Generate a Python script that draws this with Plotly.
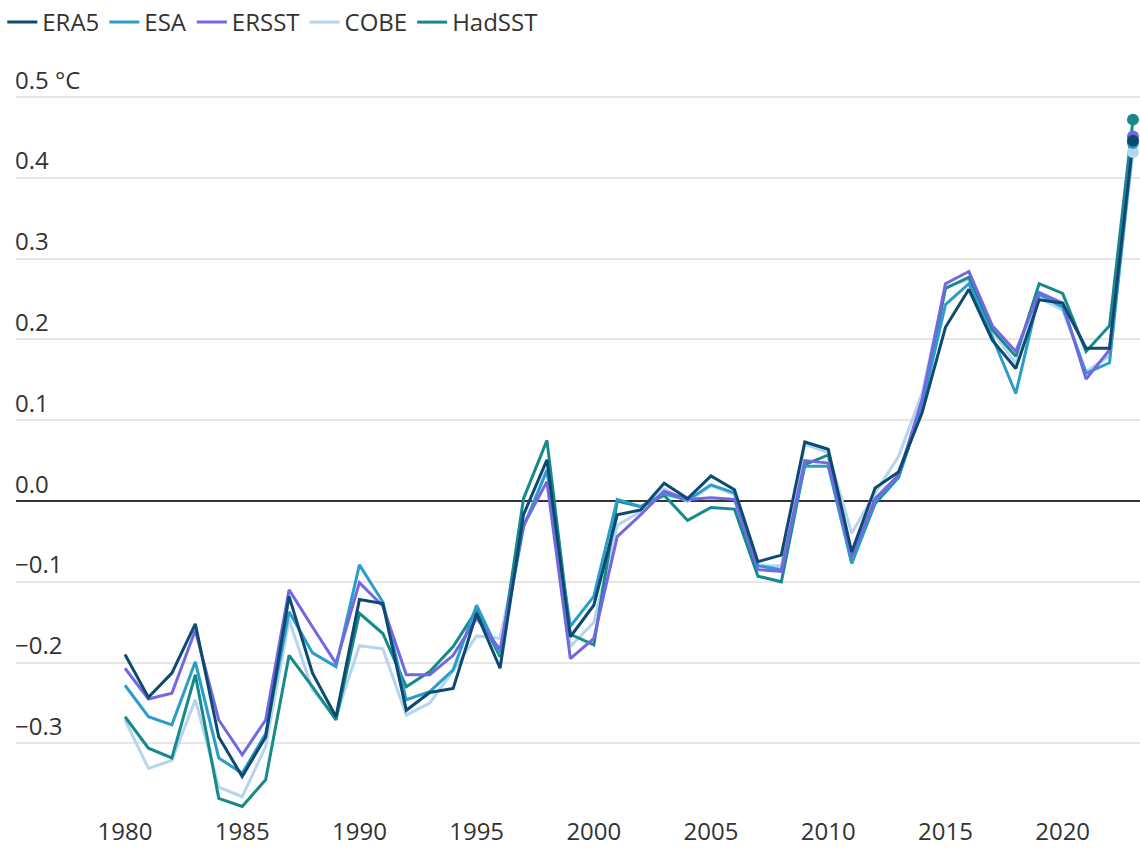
import plotly.graph_objects as go

years = list(range(1980, 2024))

era5 = [-0.190, -0.243, -0.213, -0.152, -0.292, -0.341, -0.292, -0.118, -0.213, -0.267,
        -0.122, -0.127, -0.259, -0.237, -0.232, -0.139, -0.207, -0.017, 0.051, -0.168,
        -0.129, -0.017, -0.011, 0.022, 0.003, 0.031, 0.014, -0.075, -0.067, 0.073,
        0.064, -0.063, 0.016, 0.036, 0.109, 0.215, 0.262, 0.199, 0.164, 0.249,
        0.245, 0.189, 0.189, 0.446]
esa = [-0.228, -0.267, -0.277, -0.199, -0.318, -0.337, -0.288, -0.137, -0.188, -0.205,
       -0.079, -0.125, -0.246, -0.236, -0.209, -0.129, -0.190, -0.032, 0.038, -0.155,
       -0.118, 0.002, -0.007, 0.009, 0.001, 0.020, 0.010, -0.080, -0.085, 0.043,
       0.043, -0.077, 0.000, 0.030, 0.117, 0.243, 0.269, 0.203, 0.133, 0.256,
       0.240, 0.158, 0.171, 0.443]
ersst = [-0.207, -0.245, -0.238, -0.160, -0.271, -0.314, -0.271, -0.110, -0.156, -0.201,
         -0.101, -0.130, -0.215, -0.215, -0.191, -0.145, -0.184, -0.030, 0.024, -0.195,
         -0.170, -0.044, -0.017, 0.012, 0.002, 0.004, 0.002, -0.085, -0.087, 0.050,
         0.047, -0.069, 0.003, 0.032, 0.125, 0.269, 0.284, 0.217, 0.185, 0.258,
         0.245, 0.151, 0.187, 0.451]
cobe = [-0.271, -0.331, -0.321, -0.246, -0.354, -0.366, -0.304, -0.147, -0.234, -0.267,
        -0.179, -0.183, -0.265, -0.250, -0.210, -0.167, -0.170, -0.032, 0.040, -0.180,
        -0.150, -0.030, -0.013, 0.015, -0.001, 0.019, 0.008, -0.080, -0.080, 0.070,
        0.060, -0.040, 0.010, 0.055, 0.133, 0.265, 0.274, 0.210, 0.170, 0.252,
        0.236, 0.160, 0.180, 0.432]
hadsst = [-0.267, -0.306, -0.318, -0.215, -0.368, -0.378, -0.345, -0.191, -0.230, -0.271,
          -0.139, -0.164, -0.230, -0.211, -0.180, -0.135, -0.193, 0.003, 0.075, -0.165,
          -0.178, 0.000, -0.007, 0.007, -0.024, -0.008, -0.010, -0.093, -0.100, 0.045,
          0.057, -0.077, -0.003, 0.029, 0.117, 0.263, 0.277, 0.212, 0.179, 0.269,
          0.257, 0.185, 0.217, 0.472]

x_tick_vals = [1980, 1985, 1990, 1995, 2000, 2005, 2010, 2015, 2020]
y_tick_vals = [0.5, 0.4, 0.3, 0.2, 0.1, 0.0, -0.1, -0.2, -0.3]
y_tick_text = ["0.5 °C", "0.4", "0.3", "0.2", "0.1", "0.0", "−0.1", "−0.2", "−0.3"]

series = [
    # name, values, colour, legend rank
    ("COBE", cobe, "#b5d4ee", 4),
    ("HadSST", hadsst, "#168a8b", 5),
    ("ESA", esa, "#2a9dca", 2),
    ("ERSST", ersst, "#7467e2", 3),
    ("ERA5", era5, "#0d4a70", 1),
]

FONT = "Open Sans"
TXT = "#333333"

fig = go.Figure()
for name, vals, col, rank in series:
    fig.add_trace(go.Scatter(
        x=years, y=vals, name=name, mode="lines",
        line=dict(color=col, width=3),
        legendrank=rank, legendgroup=name,
    ))
for name, vals, col, rank in series:
    fig.add_trace(go.Scatter(
        x=years[-1:], y=vals[-1:], name=name, mode="markers",
        marker=dict(size=12, color=col, opacity=1, line=dict(width=0)),
        showlegend=False, legendgroup=name, cliponaxis=False,
    ))

fig.update_layout(
    width=1140, height=848,
    margin=dict(l=16, r=0, t=60, b=33),
    paper_bgcolor="white", plot_bgcolor="white",
    font=dict(family=FONT, size=24, color=TXT),
    showlegend=True,
    legend=dict(orientation="h", xref="container", yref="container",
                x=0.002, y=1.0, xanchor="left", yanchor="top",
                font=dict(family=FONT, size=24, color=TXT),
                itemwidth=30, tracegroupgap=0, traceorder="normal"),
    xaxis=dict(range=[1975.35, 2023.3], tickvals=x_tick_vals,
               showgrid=False, zeroline=False, showline=False, ticks="",
               tickfont=dict(family=FONT, size=24, color=TXT)),
    yaxis=dict(range=[-0.3886, 0.5458], tickvals=y_tick_vals, ticktext=y_tick_text,
               ticklabelposition="inside top", ticklabelstandoff=-4,
               showgrid=True, gridcolor="#e6e6e6", gridwidth=1.5,
               zeroline=True, zerolinecolor="#333333", zerolinewidth=2,
               showline=False, ticks="",
               tickfont=dict(family=FONT, size=24, color=TXT)),
)

fig.write_html("out.html", config={"displayModeBar": False},
               post_script="document.body.style.margin='0px';document.body.style.overflow='hidden';")
